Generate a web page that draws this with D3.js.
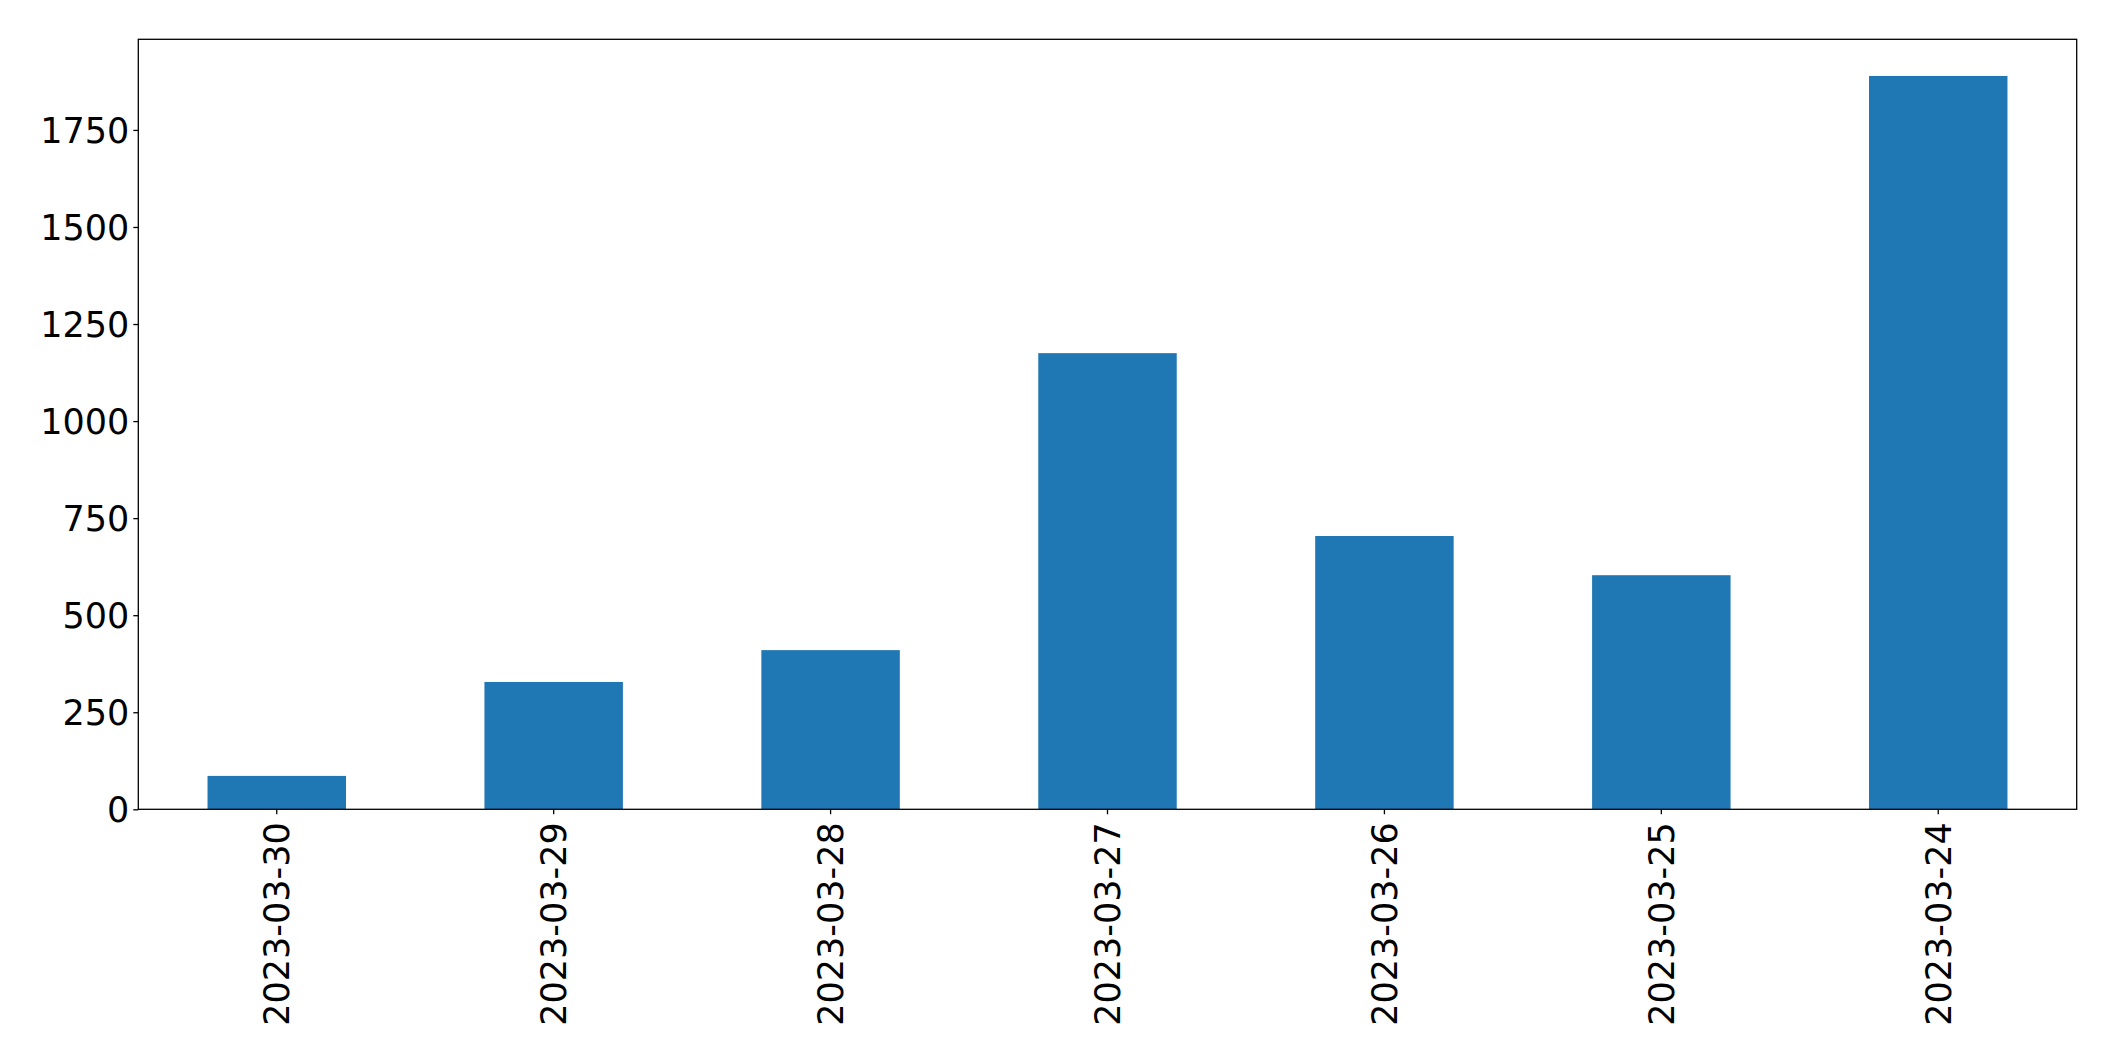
<!DOCTYPE html>
<html>
<head>
<meta charset="utf-8">
<script src="https://cdn.jsdelivr.net/npm/d3@7"></script>
<style>
  html, body { margin: 0; padding: 0; background: #fff; }
  svg { display: block; }
  text { font-family: "DejaVu Sans", sans-serif; fill: #000; }
</style>
</head>
<body>
<svg id="chart" width="2115" height="1061"></svg>
<script>
const categories = ["2023-03-30", "2023-03-29", "2023-03-28", "2023-03-27", "2023-03-26", "2023-03-25", "2023-03-24"];
const values = [86, 328, 410, 1175, 704, 603, 1889];
const yTicks = [0, 250, 500, 750, 1000, 1250, 1500, 1750];

const W = 2115, H = 1061;
const margin = { left: 138.3, right: W - 2076.7, top: 39.3, bottom: H - 809.3 };
const svg = d3.select("#chart");
const g = svg.append("g");

const x = d3.scaleBand()
  .domain(categories)
  .range([margin.left, W - margin.right])
  .paddingInner(0.5)
  .paddingOuter(0.25);

const y = d3.scaleLinear()
  .domain([0, d3.max(values) * 1.05])
  .range([H - margin.bottom, margin.top]);

g.selectAll("rect.bar")
  .data(values)
  .join("rect")
  .attr("class", "bar")
  .attr("x", (d, i) => x(categories[i]))
  .attr("width", x.bandwidth())
  .attr("y", d => y(d))
  .attr("height", d => y(0) - y(d))
  .attr("fill", "#1f77b4");

// Y axis
const yAxis = g.append("g")
  .attr("transform", `translate(${margin.left},0)`)
  .call(d3.axisLeft(y).tickValues(yTicks).tickFormat(d3.format("d")).tickSize(5).tickPadding(4));
yAxis.select(".domain").remove();
yAxis.selectAll(".tick line").attr("stroke", "#000").attr("stroke-width", 1.3);
yAxis.selectAll(".tick text").style("font-size", "35px").attr("dy", "0.36em");

// X axis
const xAxis = g.append("g")
  .attr("transform", `translate(0,${H - margin.bottom})`)
  .call(d3.axisBottom(x).tickSize(5).tickPadding(0));
xAxis.select(".domain").remove();
xAxis.selectAll(".tick line").attr("stroke", "#000").attr("stroke-width", 1.3);
xAxis.selectAll(".tick text")
  .style("font-size", "35px")
  .attr("text-anchor", "end")
  .attr("transform", "translate(0,13) rotate(-90)")
  .attr("x", 0)
  .attr("y", 0)
  .attr("dy", "0.36em");

// Frame
g.append("rect")
  .attr("x", margin.left)
  .attr("y", margin.top)
  .attr("width", W - margin.left - margin.right)
  .attr("height", H - margin.top - margin.bottom)
  .attr("fill", "none")
  .attr("stroke", "#000")
  .attr("stroke-width", 1.3);
</script>
</body>
</html>
